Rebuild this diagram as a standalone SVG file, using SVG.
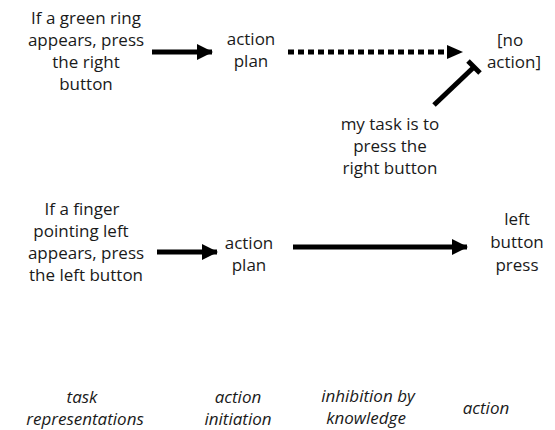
<svg xmlns="http://www.w3.org/2000/svg" width="555" height="430" viewBox="0 0 555 430">
<style>
text{font-family:"Open Sans","Noto Sans",sans-serif;font-size:17px;fill:#1a1a1a;text-anchor:middle}
.it{font-style:italic}
.ln{stroke:#000;stroke-width:5;fill:none}
</style>
<defs>
<marker id="ah" markerUnits="userSpaceOnUse" markerWidth="16" markerHeight="16" refX="15" refY="8" orient="auto">
<path d="M0,0 L16,8 L0,16 Z" fill="#000"/>
</marker>
</defs>
<rect width="555" height="430" fill="#fff"/>
<g id="task1"><text x="86" y="24">If a green ring</text><text x="86" y="46">appears, press</text><text x="86" y="68">the right</text><text x="86" y="90">button</text></g>
<g id="plan1"><text x="251" y="45">action</text><text x="251" y="67">plan</text></g>
<g id="noaction"><text x="510" y="46">[no</text><text x="514" y="68">action]</text></g>
<g id="knowledge"><text x="390" y="130">my task is to</text><text x="390" y="152">press the</text><text x="390" y="174">right button</text></g>
<g id="task2"><text x="82" y="215">If a finger</text><text x="81" y="237">pointing left</text><text x="86" y="259">appears, press</text><text x="86" y="281">the left button</text></g>
<g id="plan2"><text x="249" y="249">action</text><text x="249" y="271">plan</text></g>
<g id="leftpress"><text x="517" y="225">left</text><text x="517" y="248">button</text><text x="517" y="271">press</text></g>
<g id="labels">
<text class="it" x="82" y="403">task</text><text class="it" x="85" y="425">representations</text>
<text class="it" x="238" y="403">action</text><text class="it" x="238" y="425">initiation</text>
<text class="it" x="368" y="402">inhibition by</text><text class="it" x="366" y="424">knowledge</text>
<text class="it" x="486" y="414">action</text>
</g>
<g id="connectors">
<line class="ln" x1="152" y1="52" x2="212" y2="52" marker-end="url(#ah)"/>
<line class="ln" x1="288" y1="52" x2="447" y2="52" stroke-dasharray="6,4"/>
<path d="M447,45 L463,52 L447,59 Z" fill="#000"/>
<line class="ln" x1="157" y1="252" x2="217" y2="252" marker-end="url(#ah)"/>
<line class="ln" x1="293" y1="247" x2="467" y2="247" marker-end="url(#ah)"/>
<line class="ln" x1="434" y1="105" x2="474" y2="67"/>
<line class="ln" x1="468" y1="61" x2="480" y2="73"/>
</g>
</svg>
